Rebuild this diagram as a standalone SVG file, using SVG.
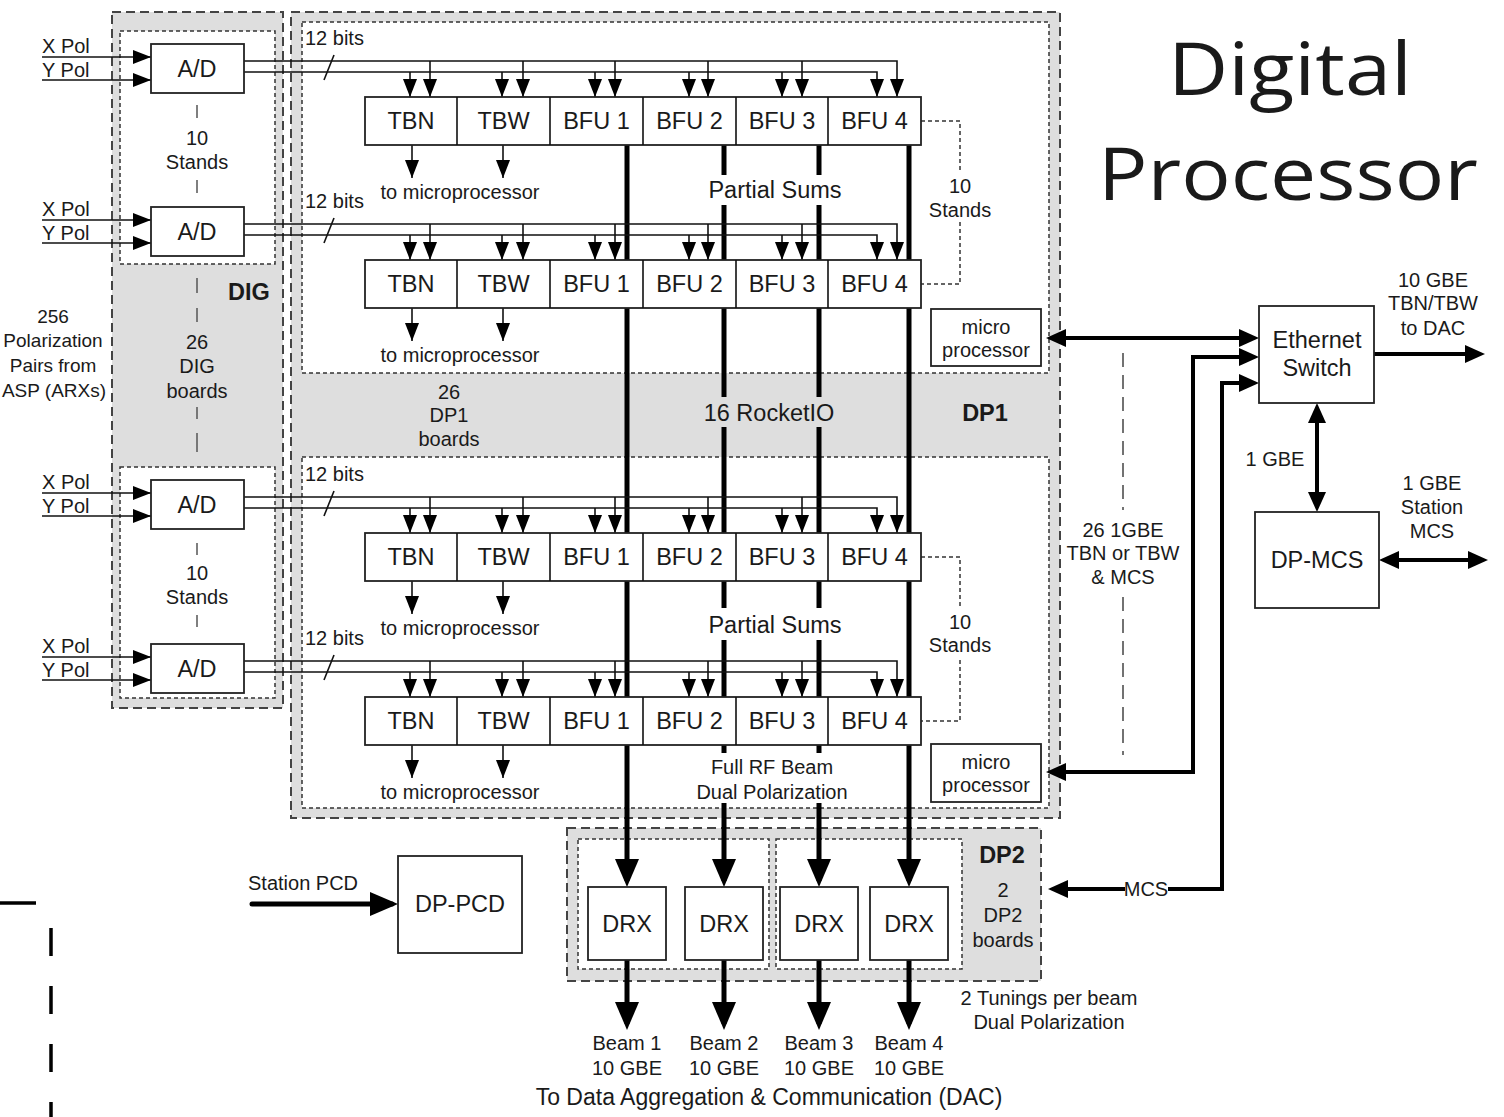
<svg xmlns="http://www.w3.org/2000/svg" width="1504" height="1117" viewBox="0 0 1504 1117">
<style>
.ob{fill:#dedede;stroke:#444;stroke-width:2;stroke-dasharray:9 5}
.ib{fill:#fff;stroke:#333;stroke-width:1.5;stroke-dasharray:4 3}
.bx{fill:#fff;stroke:#222;stroke-width:1.8}
.ln{fill:none;stroke:#111;stroke-width:1.6}
.thk{fill:none;stroke:#000;stroke-width:5}
.eth{fill:none;stroke:#000;stroke-width:4}
.dsh{fill:none;stroke:#333;stroke-width:1.5;stroke-dasharray:4 3}
.tick{stroke:#555;stroke-width:1.5}
text{font-family:"Liberation Sans",Arial,sans-serif;fill:#1a1a1a}
.s{font-size:20px}
.m{font-size:23.5px}
.c{text-anchor:middle}
.b{font-weight:bold}
.ttl{font-family:"Open Sans","Liberation Sans",sans-serif;font-size:74px;text-anchor:middle}
</style>
<defs>
<marker id="sm" markerUnits="userSpaceOnUse" markerWidth="18" markerHeight="14" viewBox="0 0 18 14" refX="18" refY="7" orient="auto"><path d="M0,0 L18,7 L0,14 z" fill="#000"/></marker>
<marker id="md" markerUnits="userSpaceOnUse" markerWidth="20" markerHeight="18" viewBox="0 0 20 18" refX="14" refY="9" orient="auto-start-reverse"><path d="M0,0 L20,9 L0,18 z" fill="#000"/></marker>
<marker id="lg" markerUnits="userSpaceOnUse" markerWidth="28" markerHeight="24" viewBox="0 0 28 24" refX="22" refY="12" orient="auto-start-reverse"><path d="M0,0 L28,12 L0,24 z" fill="#000"/></marker>
</defs>
<rect width="1504" height="1117" fill="#fff"/>

<g id="dig">
<rect class="ob" x="112" y="12" width="171" height="696"/>
<rect class="ib" x="120" y="31" width="155" height="233"/>
<rect class="ib" x="120" y="467" width="155" height="231"/>
<text class="m b c" x="249" y="300">DIG</text>
<text class="s c" x="197" y="349">26</text>
<text class="s c" x="197" y="373">DIG</text>
<text class="s c" x="197" y="398">boards</text>
<line class="tick" x1="197" y1="278" x2="197" y2="293"/>
<line class="tick" x1="197" y1="308" x2="197" y2="322"/>
<line class="tick" x1="197" y1="407" x2="197" y2="419"/>
<line class="tick" x1="197" y1="433" x2="197" y2="452"/>
<text class="s c" x="197" y="145">10</text>
<text class="s c" x="197" y="169">Stands</text>
<line class="tick" x1="197" y1="105" x2="197" y2="118"/>
<line class="tick" x1="197" y1="180" x2="197" y2="193"/>
<text class="s c" x="197" y="580">10</text>
<text class="s c" x="197" y="604">Stands</text>
<line class="tick" x1="197" y1="543" x2="197" y2="555"/>
<line class="tick" x1="197" y1="615" x2="197" y2="627"/>
</g>
<g id="dp1">
<rect class="ob" x="291" y="12" width="769" height="806"/>
<rect class="ib" x="302" y="22" width="747" height="351"/>
<rect class="ib" x="302" y="457" width="747" height="351"/>
<text class="s c" x="449" y="399">26</text>
<text class="s c" x="449" y="422">DP1</text>
<text class="s c" x="449" y="446">boards</text>
<text class="m c" x="769" y="421">16 RocketIO</text>
<text class="m b c" x="985" y="421">DP1</text>
</g>
<g id="dp2">
<rect class="ob" x="567" y="828" width="474" height="153"/>
<rect class="ib" x="578" y="839" width="191" height="130"/>
<rect class="ib" x="776" y="839" width="186" height="130"/>
<text class="m b c" x="1002" y="863">DP2</text>
<text class="s c" x="1003" y="897">2</text>
<text class="s c" x="1003" y="922">DP2</text>
<text class="s c" x="1003" y="947">boards</text>
</g>

<g id="source-label">
<text class="c" font-size="19" x="53" y="323">256</text>
<text class="c" font-size="19" x="53" y="347">Polarization</text>
<text class="c" font-size="19" x="53" y="372">Pairs from</text>
<text class="c" font-size="19" x="54" y="397">ASP (ARXs)</text>
</g>

<g id="connectors">
<path class="thk" d="M627,145 V881" marker-end="url(#lg)"/>
<path class="thk" d="M724,145 V175 M724,205 V397 M724,427 V608 M724,640 V753 M724,803 V881" marker-end="url(#lg)"/>
<path class="thk" d="M819,145 V175 M819,205 V397 M819,427 V608 M819,640 V753 M819,803 V881" marker-end="url(#lg)"/>
<path class="thk" d="M909,145 V881" marker-end="url(#lg)"/>
<g class="ln" marker-end="url(#sm)">
<path d="M42,57 H151"/><path d="M42,80 H151"/>
<path d="M42,220 H151"/><path d="M42,243 H151"/>
<path d="M42,493 H151"/><path d="M42,516 H151"/>
<path d="M42,657 H151"/><path d="M42,680 H151"/>
</g>
<g class="ln" marker-end="url(#sm)">
<path d="M244,61 H897 V97"/><path d="M244,72 H877 V97"/>
<path d="M410,72 V97"/><path d="M502,72 V97"/><path d="M595,72 V97"/><path d="M689,72 V97"/><path d="M782,72 V97"/>
<path d="M430,61 V97"/><path d="M523,61 V97"/><path d="M615,61 V97"/><path d="M708,61 V97"/><path d="M802,61 V97"/>
<path d="M244,224 H897 V260"/><path d="M244,235 H877 V260"/>
<path d="M410,235 V260"/><path d="M502,235 V260"/><path d="M595,235 V260"/><path d="M689,235 V260"/><path d="M782,235 V260"/>
<path d="M430,224 V260"/><path d="M523,224 V260"/><path d="M615,224 V260"/><path d="M708,224 V260"/><path d="M802,224 V260"/>
<path d="M244,497 H897 V533"/><path d="M244,508 H877 V533"/>
<path d="M410,508 V533"/><path d="M502,508 V533"/><path d="M595,508 V533"/><path d="M689,508 V533"/><path d="M782,508 V533"/>
<path d="M430,497 V533"/><path d="M523,497 V533"/><path d="M615,497 V533"/><path d="M708,497 V533"/><path d="M802,497 V533"/>
<path d="M244,661 H897 V697"/><path d="M244,672 H877 V697"/>
<path d="M410,672 V697"/><path d="M502,672 V697"/><path d="M595,672 V697"/><path d="M689,672 V697"/><path d="M782,672 V697"/>
<path d="M430,661 V697"/><path d="M523,661 V697"/><path d="M615,661 V697"/><path d="M708,661 V697"/><path d="M802,661 V697"/>
<path d="M412,145 V178"/><path d="M503,145 V178"/>
<path d="M412,308 V341"/><path d="M503,308 V341"/>
<path d="M412,581 V614"/><path d="M503,581 V614"/>
<path d="M412,745 V778"/><path d="M503,745 V778"/>
</g>
<g class="ln">
<path d="M324,80 L334,55"/><path d="M324,243 L334,218"/><path d="M324,516 L334,491"/><path d="M324,680 L334,655"/>
</g>
<path class="dsh" d="M921,121 H960 V172 M960,222 V284 H921"/>
<path class="dsh" d="M921,557 H960 V607 M960,660 V721 H921"/>
<path d="M1123,353 V510 M1123,597 V755" fill="none" stroke="#444" stroke-width="1.5" stroke-dasharray="14 8"/>
<path class="eth" d="M1052,338 H1253" marker-start="url(#md)" marker-end="url(#md)"/>
<path class="eth" d="M1253,357 H1193 V772 H1052" marker-start="url(#md)" marker-end="url(#md)"/>
<path class="eth" d="M1253,383 H1222 V889 H1168" marker-start="url(#md)"/>
<path class="eth" d="M1125,889 H1054" marker-end="url(#md)"/>
<path class="eth" d="M1374,354 H1479" marker-end="url(#md)"/>
<path class="eth" d="M1317,409 V506" marker-start="url(#md)" marker-end="url(#md)"/>
<path class="eth" d="M1385,560 H1482" marker-start="url(#md)" marker-end="url(#md)"/>
<path class="thk" d="M252,904 H392" stroke-linecap="round" marker-end="url(#lg)"/>
<path class="thk" d="M627,960 V1024" marker-end="url(#lg)"/>
<path class="thk" d="M724,960 V1024" marker-end="url(#lg)"/>
<path class="thk" d="M819,960 V1024" marker-end="url(#lg)"/>
<path class="thk" d="M909,960 V1024" marker-end="url(#lg)"/>
</g>

<g id="ad1"><rect class="bx" x="151" y="44" width="93" height="49"/><text class="m c" x="197" y="77">A/D</text></g>
<g id="ad2"><rect class="bx" x="151" y="207" width="93" height="49"/><text class="m c" x="197" y="240">A/D</text></g>
<g id="ad3"><rect class="bx" x="151" y="480" width="93" height="49"/><text class="m c" x="197" y="513">A/D</text></g>
<g id="ad4"><rect class="bx" x="151" y="644" width="93" height="49"/><text class="m c" x="197" y="677">A/D</text></g>

<g id="row1">
<rect class="bx" x="365" y="97" width="556" height="48"/>
<path class="ln" d="M457,97 V145 M550,97 V145 M643,97 V145 M736,97 V145 M828,97 V145"/>
<text class="m c" x="411" y="129">TBN</text><text class="m c" x="503.5" y="129">TBW</text><text class="m c" x="596.5" y="129">BFU 1</text><text class="m c" x="689.5" y="129">BFU 2</text><text class="m c" x="782" y="129">BFU 3</text><text class="m c" x="874.5" y="129">BFU 4</text>
</g>
<g id="row2">
<rect class="bx" x="365" y="260" width="556" height="48"/>
<path class="ln" d="M457,260 V308 M550,260 V308 M643,260 V308 M736,260 V308 M828,260 V308"/>
<text class="m c" x="411" y="292">TBN</text><text class="m c" x="503.5" y="292">TBW</text><text class="m c" x="596.5" y="292">BFU 1</text><text class="m c" x="689.5" y="292">BFU 2</text><text class="m c" x="782" y="292">BFU 3</text><text class="m c" x="874.5" y="292">BFU 4</text>
</g>
<g id="row3">
<rect class="bx" x="365" y="533" width="556" height="48"/>
<path class="ln" d="M457,533 V581 M550,533 V581 M643,533 V581 M736,533 V581 M828,533 V581"/>
<text class="m c" x="411" y="565">TBN</text><text class="m c" x="503.5" y="565">TBW</text><text class="m c" x="596.5" y="565">BFU 1</text><text class="m c" x="689.5" y="565">BFU 2</text><text class="m c" x="782" y="565">BFU 3</text><text class="m c" x="874.5" y="565">BFU 4</text>
</g>
<g id="row4">
<rect class="bx" x="365" y="697" width="556" height="48"/>
<path class="ln" d="M457,697 V745 M550,697 V745 M643,697 V745 M736,697 V745 M828,697 V745"/>
<text class="m c" x="411" y="729">TBN</text><text class="m c" x="503.5" y="729">TBW</text><text class="m c" x="596.5" y="729">BFU 1</text><text class="m c" x="689.5" y="729">BFU 2</text><text class="m c" x="782" y="729">BFU 3</text><text class="m c" x="874.5" y="729">BFU 4</text>
</g>

<g id="labels">
<text class="s" x="42" y="53">X Pol</text><text class="s" x="42" y="77">Y Pol</text>
<text class="s" x="42" y="216">X Pol</text><text class="s" x="42" y="240">Y Pol</text>
<text class="s" x="42" y="489">X Pol</text><text class="s" x="42" y="513">Y Pol</text>
<text class="s" x="42" y="653">X Pol</text><text class="s" x="42" y="677">Y Pol</text>
<text class="s" x="305" y="45">12 bits</text>
<text class="s" x="305" y="208">12 bits</text>
<text class="s" x="305" y="481">12 bits</text>
<text class="s" x="305" y="645">12 bits</text>
<text class="s c" x="460" y="199">to microprocessor</text>
<text class="s c" x="460" y="362">to microprocessor</text>
<text class="s c" x="460" y="635">to microprocessor</text>
<text class="s c" x="460" y="799">to microprocessor</text>
<text class="m c" x="775" y="198">Partial Sums</text>
<text class="m c" x="775" y="633">Partial Sums</text>
<text class="s c" x="960" y="193">10</text><text class="s c" x="960" y="217">Stands</text>
<text class="s c" x="960" y="629">10</text><text class="s c" x="960" y="652">Stands</text>
<text class="s c" x="772" y="774">Full RF Beam</text>
<text class="s c" x="772" y="799">Dual Polarization</text>
<text class="s c" x="1146" y="896">MCS</text>
<text class="s c" x="1049" y="1005">2 Tunings per beam</text>
<text class="s c" x="1049" y="1029">Dual Polarization</text>
<text class="s c" x="627" y="1050">Beam 1</text><text class="s c" x="627" y="1075">10 GBE</text>
<text class="s c" x="724" y="1050">Beam 2</text><text class="s c" x="724" y="1075">10 GBE</text>
<text class="s c" x="819" y="1050">Beam 3</text><text class="s c" x="819" y="1075">10 GBE</text>
<text class="s c" x="909" y="1050">Beam 4</text><text class="s c" x="909" y="1075">10 GBE</text>
<text class="c" x="769" y="1105" font-size="23">To Data Aggregation &amp; Communication (DAC)</text>
<text class="s" x="248" y="890">Station PCD</text>
<text class="s c" x="1433" y="287">10 GBE</text><text class="s c" x="1433" y="310">TBN/TBW</text><text class="s c" x="1433" y="335">to DAC</text>
<text class="s c" x="1275" y="466">1 GBE</text>
<text class="s c" x="1432" y="490">1 GBE</text><text class="s c" x="1432" y="514">Station</text><text class="s c" x="1432" y="538">MCS</text>
<text class="s c" x="1123" y="537">26 1GBE</text><text class="s c" x="1123" y="560">TBN or TBW</text><text class="s c" x="1123" y="584">&amp; MCS</text>
</g>

<g id="micro1"><rect class="bx" x="931" y="309" width="110" height="57"/><text class="s c" x="986" y="334">micro</text><text class="s c" x="986" y="357">processor</text></g>
<g id="micro2"><rect class="bx" x="931" y="744" width="110" height="58"/><text class="s c" x="986" y="769">micro</text><text class="s c" x="986" y="792">processor</text></g>

<g id="drx1"><rect class="bx" x="588" y="887" width="78" height="73"/><text class="m c" x="627" y="932">DRX</text></g>
<g id="drx2"><rect class="bx" x="685" y="887" width="78" height="73"/><text class="m c" x="724" y="932">DRX</text></g>
<g id="drx3"><rect class="bx" x="780" y="887" width="78" height="73"/><text class="m c" x="819" y="932">DRX</text></g>
<g id="drx4"><rect class="bx" x="870" y="887" width="78" height="73"/><text class="m c" x="909" y="932">DRX</text></g>

<g id="dppcd"><rect class="bx" x="398" y="856" width="124" height="97"/><text class="m c" x="460" y="912">DP-PCD</text></g>
<g id="ethernet"><rect class="bx" x="1259" y="306" width="115" height="97"/><text class="m c" x="1317" y="348">Ethernet</text><text class="m c" x="1317" y="376">Switch</text></g>
<g id="dpmcs"><rect class="bx" x="1255" y="512" width="124" height="96"/><text class="m c" x="1317" y="568">DP-MCS</text></g>

<g id="title">
<text class="ttl" x="1290" y="95" textLength="244" lengthAdjust="spacingAndGlyphs">Digital</text>
<text class="ttl" x="1288" y="200" textLength="380" lengthAdjust="spacingAndGlyphs">Processor</text>
</g>

<g id="slide-marks" stroke="#000" stroke-width="3.5" fill="none">
<path d="M0,903 H36"/>
<path d="M51,928 V1117" stroke-dasharray="28 30"/>
</g>
</svg>
